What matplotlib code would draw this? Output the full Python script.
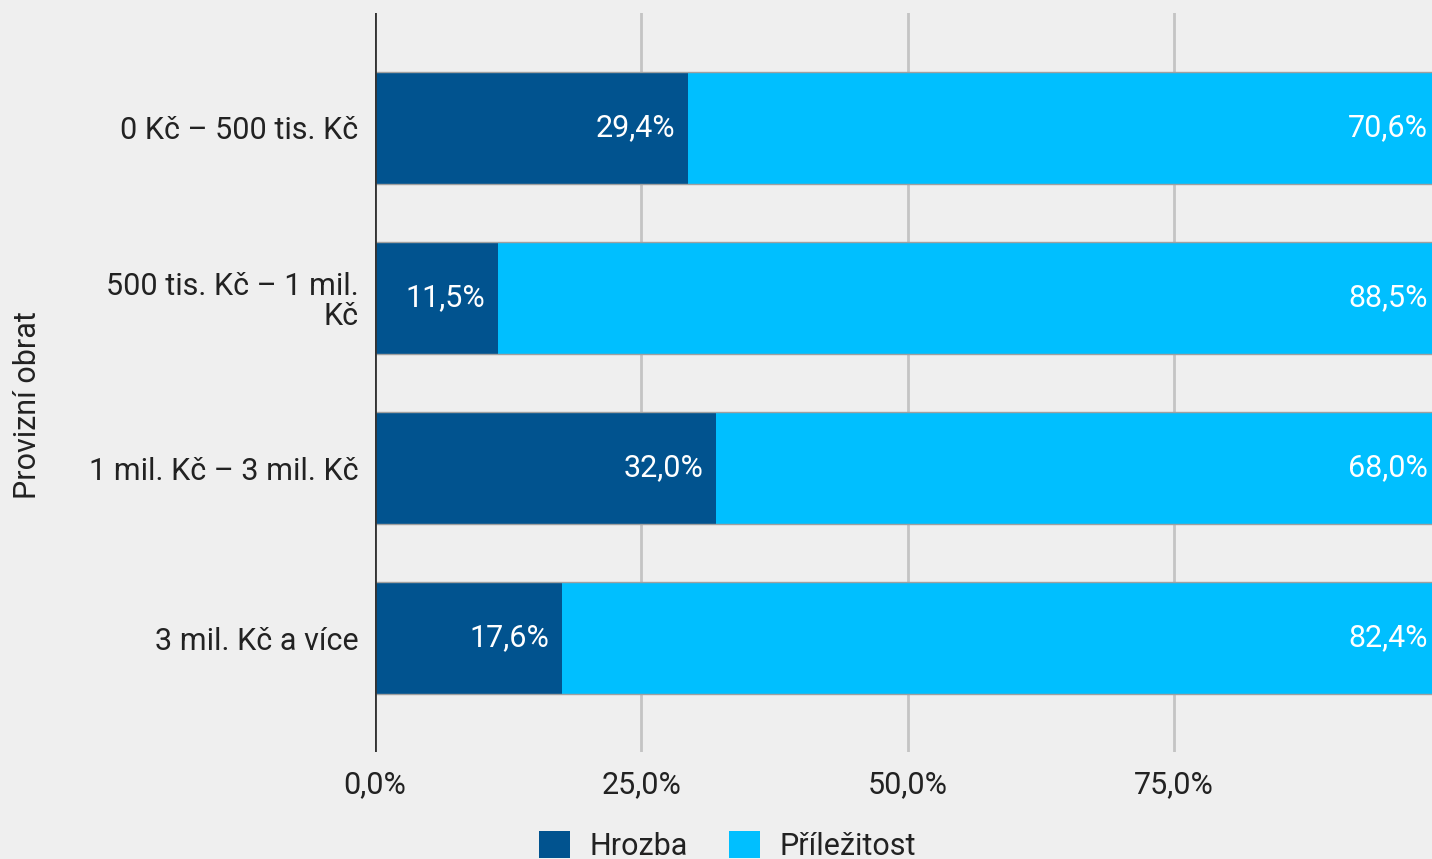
import matplotlib.pyplot as plt
import numpy as np
from matplotlib.patches import Patch

plt.rcParams["font.family"] = ["Roboto", "DejaVu Sans"]

# provizni obrat - podil hrozba / prilezitost
categories = ["0 Kč – 500 tis. Kč", "500 tis. Kč – 1 mil.\nKč",
              "1 mil. Kč – 3 mil. Kč", "3 mil. Kč a více"]
hrozba = [29.4, 11.5, 32.0, 17.6]
prilezitost = [70.6, 88.5, 68.0, 82.4]
series_names = ["Hrozba", "Příležitost"]
colors = ["#01538f", "#00bfff"]

bg = "#efefef"
fs = 22
fig = plt.figure(figsize=(14.32, 8.59), dpi=100, facecolor=bg)
ax = fig.add_axes([0.2619, 0.1246, 0.7437, 0.8603], facecolor=bg)

y = np.arange(len(categories))
bar_h = 0.66
ax.barh(y, hrozba, height=bar_h, color=colors[0], zorder=3)
ax.barh(y, prilezitost, left=hrozba, height=bar_h, color=colors[1], zorder=3)

# tenke sede okraje nahore a dole
ax.hlines(np.concatenate([y - bar_h / 2, y + bar_h / 2]), 0, 100,
          colors="#a0a0a0", linewidth=1, zorder=4)

# hodnoty uvnitr segmentu, zarovnane vpravo
for i in range(len(categories)):
    ax.text(hrozba[i] - 1.2, y[i], f"{hrozba[i]:.1f}%".replace(".", ","),
            ha="right", va="center", color="white", fontsize=fs, zorder=5)
    ax.text(hrozba[i] + prilezitost[i] - 1.1, y[i],
            f"{prilezitost[i]:.1f}%".replace(".", ","),
            ha="right", va="center", color="white", fontsize=fs, zorder=5)

ax.set_xlim(0, 100)
ax.set_ylim(3.67, -0.676)
ax.set_xticks([0, 25, 50, 75])
ax.set_xticklabels(["0,0%", "25,0%", "50,0%", "75,0%"])
ax.set_yticks(y)
ax.set_yticklabels(categories, linespacing=1.05)
ax.tick_params(axis="both", length=0, labelsize=fs, colors="#222222")
ax.tick_params(axis="y", pad=12)
ax.tick_params(axis="x", pad=13)

ax.grid(axis="x", color="#c4c4c4", linewidth=2, zorder=0)
ax.axvline(0, color="#333333", linewidth=2, zorder=6)
for s in ax.spines.values():
    s.set_visible(False)

ax.set_ylabel("Provizní obrat", fontsize=fs, color="#222222")
ax.yaxis.set_label_coords(-0.313, 0.47)

handles = [Patch(facecolor=c, edgecolor="none") for c in colors]
fig.legend(handles, series_names, loc="center", bbox_to_anchor=(0.508, 0.015),
           ncol=2, frameon=False, fontsize=fs, handlelength=1.0,
           handleheight=1.0, handletextpad=0.65, columnspacing=1.35,
           labelcolor="#222222")

fig.savefig("out.png", dpi=100, facecolor=bg)
